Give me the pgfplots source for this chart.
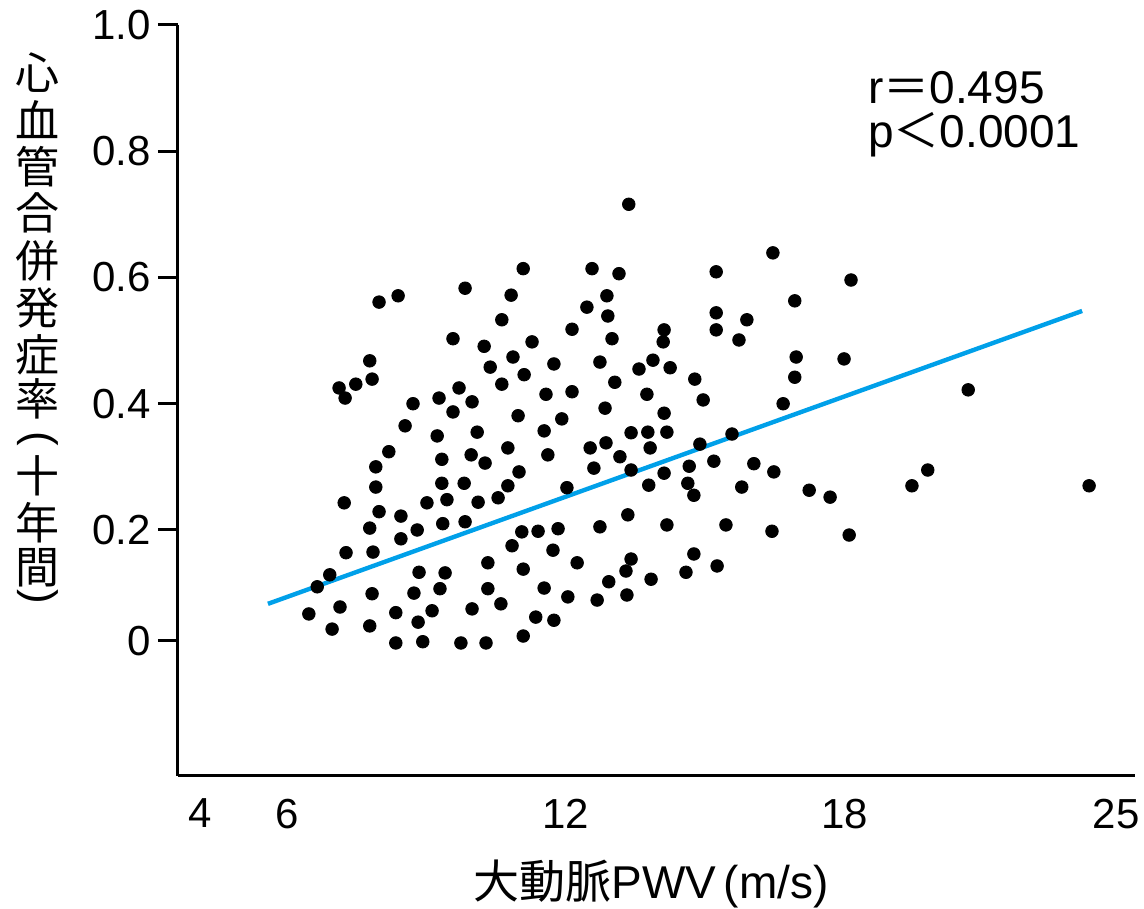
\documentclass[border=0pt]{standalone}
\usepackage{fontspec}
\setmainfont{Liberation Sans}
\newfontfamily\cjk{Noto Sans CJK JP}
\usepackage{pgfplots}
\pgfplotsset{compat=1.18}
\definecolor{fitblue}{RGB}{0,160,233}

\begin{document}
\begin{tikzpicture}
\begin{axis}[
  x=23.25pt, y=315.625pt,
  xmin=3.656, xmax=24.237,
  ymin=-0.1897, ymax=1.0,
  axis lines=left,
  axis line style={-, line width=1.5pt},
  xtick={4.129,6,12,18,23.83},
  xticklabels={4,6,12,18,25},
  ytick={0.0242,0.2,0.4,0.6,0.8,1.0},
  yticklabels={0,0.2,0.4,0.6,0.8,1.0},
  tick align=outside,
  major tick length=10pt,
  xtick style={draw=none},
  ytick style={line width=1.5pt, black},
  tick label style={font=\fontsize{21}{25}\selectfont},
  xticklabel style={yshift=2pt},
  clip=false,
]
% regression line
\addplot[fitblue, line width=2.2pt] coordinates {(5.59,0.083) (23.10,0.547)};
% patients
\addplot[only marks, mark=*, mark size=3.15pt, mark options={fill=black, draw=black}] coordinates {
(11.08,0.614) (9.83,0.583) (10.82,0.572) (8.39,0.571) (7.98,0.561)
(10.62,0.533) (9.57,0.503) (10.24,0.491) (11.27,0.498) (10.86,0.474)
(10.37,0.458) (7.78,0.468) (7.83,0.439) (7.48,0.431) (7.12,0.425)
(7.25,0.409) (11.10,0.446) (10.62,0.431) (9.70,0.425) (9.27,0.409)
(9.98,0.403) (8.71,0.400) (9.57,0.387) (11.57,0.415) (10.97,0.381)
(8.54,0.365) (9.23,0.349) (10.09,0.355) (11.53,0.357) (10.75,0.330)
(8.19,0.324) (9.33,0.312) (9.96,0.319) (10.26,0.306) (11.61,0.319)
(7.91,0.300) (10.99,0.292) (9.33,0.274) (9.81,0.274) (7.91,0.268)
(10.75,0.270) (7.23,0.243) (9.01,0.243) (9.44,0.248) (10.11,0.244)
(10.54,0.251) (7.98,0.229) (8.45,0.222) (7.78,0.203) (8.80,0.200)
(9.35,0.210) (9.83,0.213) (11.05,0.197) (11.40,0.198) (8.45,0.186)
(10.84,0.175) (7.27,0.164) (7.85,0.165) (11.72,0.168) (6.92,0.129)
(6.65,0.110) (8.84,0.133) (9.40,0.132) (10.32,0.148) (11.08,0.138)
(7.83,0.099) (8.73,0.100) (9.29,0.107) (10.32,0.107) (11.53,0.108)
(10.60,0.083) (6.47,0.067) (7.14,0.078) (8.34,0.069) (9.12,0.072)
(9.98,0.075) (11.35,0.062) (6.97,0.043) (7.78,0.048) (8.82,0.054)
(11.08,0.032) (8.34,0.021) (8.92,0.023) (9.74,0.021) (10.28,0.021)
(13.35,0.716) (12.56,0.614) (13.14,0.606) (15.23,0.609) (16.45,0.639)
(12.88,0.571) (12.45,0.553) (12.90,0.539) (16.92,0.563) (15.23,0.544)
(15.23,0.517) (15.89,0.533) (15.72,0.501) (12.13,0.518) (12.99,0.503)
(14.11,0.517) (14.09,0.498) (11.74,0.463) (12.73,0.466) (13.57,0.455)
(13.87,0.469) (14.24,0.457) (16.95,0.474) (17.98,0.471) (16.92,0.442)
(13.05,0.434) (14.77,0.439) (12.13,0.419) (13.74,0.415) (14.95,0.406)
(16.67,0.400) (12.84,0.393) (14.11,0.385) (11.91,0.376) (13.40,0.354)
(13.76,0.355) (14.17,0.355) (15.57,0.352) (12.52,0.330) (12.86,0.338)
(13.81,0.330) (14.88,0.336) (13.16,0.316) (12.60,0.298) (13.40,0.295)
(14.65,0.301) (15.18,0.309) (16.04,0.305) (16.47,0.292) (14.11,0.290)
(13.78,0.271) (14.62,0.274) (14.75,0.255) (15.78,0.268) (17.23,0.263)
(17.68,0.252) (12.02,0.267) (13.33,0.224) (12.73,0.205) (14.17,0.208)
(15.44,0.208) (16.43,0.198) (11.83,0.202) (12.24,0.148) (13.40,0.154)
(13.29,0.135) (14.75,0.162) (14.58,0.133) (15.25,0.143) (12.92,0.118)
(13.83,0.122) (12.04,0.094) (12.67,0.089) (13.31,0.097) (11.74,0.057)
(18.13,0.596) (20.65,0.422) (19.78,0.295) (19.44,0.270) (23.25,0.270)
(18.09,0.192)
};
\node[anchor=west, inner sep=0pt, font=\fontsize{23}{27}\selectfont] at (axis cs:18.49,0.900) {r{\cjk ＝}0.495};
\node[anchor=west, inner sep=0pt, font=\fontsize{23}{27}\selectfont] at (axis cs:18.49,0.826) {p{\cjk ＜}0.0001};
\coordinate (bl) at (rel axis cs:0,0);
\coordinate (tr) at (rel axis cs:1,1);
\end{axis}
% x title
\node[anchor=center, inner sep=0pt, font=\fontsize{23}{27}\selectfont] at ([shift={(236.5pt,-54pt)}]bl) {{\cjk 大動脈}PWV\,(m/s)};
% y title, set vertically one character at a time
\foreach \c/\yy in {心/73,血/120,管/167,合/213,併/261,発/308,症/355,率/399,十/476,年/523,間/568} {
  \pgfmathsetmacro\dy{(776-\yy)*0.5}
  \node[inner sep=0pt, font=\cjk\fontsize{22}{24}\selectfont] at ([shift={(-70pt,\dy pt)}]bl) {\c};
}
\node[inner sep=0pt, rotate=-90, font=\fontsize{22}{24}\selectfont] at ([shift={(-70pt,168.5pt)}]bl) {(};
\node[inner sep=0pt, rotate=-90, font=\fontsize{22}{24}\selectfont] at ([shift={(-70pt,89.5pt)}]bl) {)};
\pgfresetboundingbox
\path ([shift={(-89pt,-66.5pt)}]bl) rectangle ([shift={(4.5pt,12.5pt)}]tr);
\end{tikzpicture}
\end{document}
